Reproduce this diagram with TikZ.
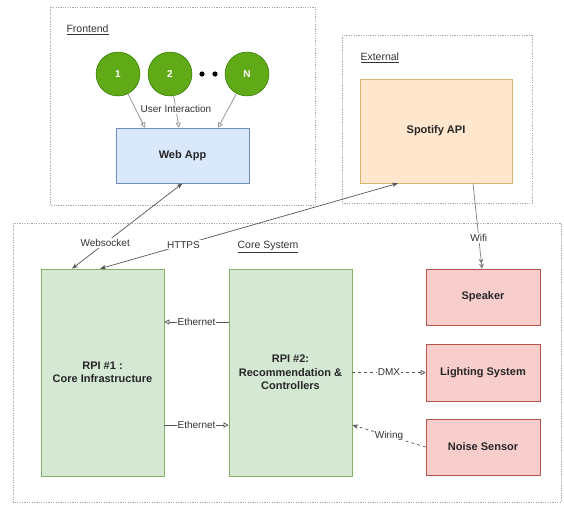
\documentclass[tikz,border=0pt]{standalone}
\usepackage{fontspec}
\setmainfont{Liberation Sans}
\usepackage{tikz}
\usetikzlibrary{arrows.meta, positioning, calc}
\definecolor{groupline}{HTML}{A8A8A8}
\definecolor{usergreen}{HTML}{60A917}
\definecolor{userline}{HTML}{2D7600}
\definecolor{webfill}{HTML}{DAE8FC}
\definecolor{webline}{HTML}{6C8EBF}
\definecolor{apifill}{HTML}{FFE6CC}
\definecolor{apiline}{HTML}{D7B56D}
\definecolor{rpifill}{HTML}{D5E8D4}
\definecolor{rpiline}{HTML}{82B366}
\definecolor{devfill}{HTML}{F8CECC}
\definecolor{devline}{HTML}{B85450}
\definecolor{linkgray}{HTML}{555555}

\begin{document}
\begin{tikzpicture}[x=1pt, y=-1pt,
    group/.style={draw=groupline, dash pattern=on 1.2pt off 1.2pt, line width=0.6pt},
    grouplabel/.style={font=\fontsize{10.5}{12}\selectfont, text=black!80},
    box/.style={draw, line width=0.6pt, align=center, text=black!85, inner sep=2pt,
        font=\fontsize{11}{13.3}\selectfont\bfseries},
    user/.style={circle, fill=usergreen, draw=userline, line width=0.5pt, minimum size=44pt,
        text=white, font=\fontsize{10}{12}\selectfont\bfseries},
    link/.style={draw=linkgray, line width=0.7pt},
    elabel/.style={fill=white, font=\fontsize{10}{11}\selectfont, text=black!80, inner sep=1pt},
    hollow/.style={-{Triangle[open, length=5pt, width=5pt]}},
    pointy/.style={-{Stealth[length=6pt, width=4.5pt]}},
    bothways/.style={{Stealth[length=6pt, width=4.5pt]}-{Stealth[length=6pt, width=4.5pt]}}]
    \useasboundingbox (0,0) rectangle (564,504);

    % Groups
    \draw[group] (50,7) rectangle (315,205);
    \node[grouplabel, anchor=west] (frontlbl) at (63,30) {\underline{Frontend}};
    \draw[group] (342,35) rectangle (532,203);
    \node[grouplabel, anchor=west] (extlbl) at (357,58) {\underline{External}};
    \draw[group] (13,223) rectangle (561,502);
    \node[grouplabel] (corelbl) at (268,247) {\underline{Core System}};

    % Frontend
    \node[user] (u1) at (118,74) {1};
    \node[user] (u2) at (170,74) {2};
    \node[user] (un) at (247,74) {N};
    \fill (202,74) circle (2.6);
    \fill (215,74) circle (2.6);
    \node[box, fill=webfill, draw=webline, minimum width=133pt, minimum height=55pt] (web) at (182.5,155.5) {Web App};

    % External
    \node[box, fill=apifill, draw=apiline, minimum width=152pt, minimum height=104pt] (api) at (436,131) {Spotify API};

    % Core system
    \node[box, fill=rpifill, draw=rpiline, minimum width=123pt, minimum height=207pt] (rpi1) at (102.5,372.5) {RPI \#1 :\\Core Infrastructure};
    \node[box, fill=rpifill, draw=rpiline, minimum width=123pt, minimum height=207pt] (rpi2) at (290.5,372.5) {RPI \#2:\\Recommendation \&\\Controllers};
    \node[box, fill=devfill, draw=devline, minimum width=114pt, minimum height=56pt] (speaker) at (483,297) {Speaker};
    \node[box, fill=devfill, draw=devline, minimum width=114pt, minimum height=57pt] (lights) at (483,372.5) {Lighting System};
    \node[box, fill=devfill, draw=devline, minimum width=114pt, minimum height=56pt] (noise) at (483,447) {Noise Sensor};

    % User interaction
    \draw[link, draw=black!45, hollow] (u1) -- ([xshift=-37.5pt]web.north);
    \draw[link, draw=black!45, hollow] (u2) -- node[elabel, pos=0.42] {User Interaction} ([xshift=-3.5pt]web.north);
    \draw[link, draw=black!45, hollow] (un) -- ([xshift=35.5pt]web.north);

    % Links to the core
    \draw[link, bothways] (web.south) -- node[elabel, pos=0.7] {Websocket} ([xshift=-30.5pt]rpi1.north);
    \draw[link, bothways] ([xshift=-38pt]api.south) -- node[elabel, pos=0.72] {HTTPS} ([xshift=-2.5pt]rpi1.north);
    \draw[link, draw=black!50, -{Stealth[length=5pt, width=5pt]Stealth[length=5pt, width=5pt]}] ([xshift=37pt]api.south) -- node[elabel, pos=0.64] {Wifi} ([xshift=-1pt]speaker.north);

    % Inside the core
    \draw[link, hollow] ([yshift=50.5pt]rpi2.west) -- node[elabel] {Ethernet} ([yshift=50.5pt]rpi1.east);
    \draw[link, hollow] ([yshift=-52.5pt]rpi1.east) -- node[elabel] {Ethernet} ([yshift=-52.5pt]rpi2.west);
    \draw[link, dashed, hollow] (rpi2.east) -- node[elabel] {DMX} (lights.west);
    \draw[link, dashed, pointy] (noise.west) -- node[elabel] {Wiring} ([yshift=-52.5pt]rpi2.east);
\end{tikzpicture}
\end{document}
